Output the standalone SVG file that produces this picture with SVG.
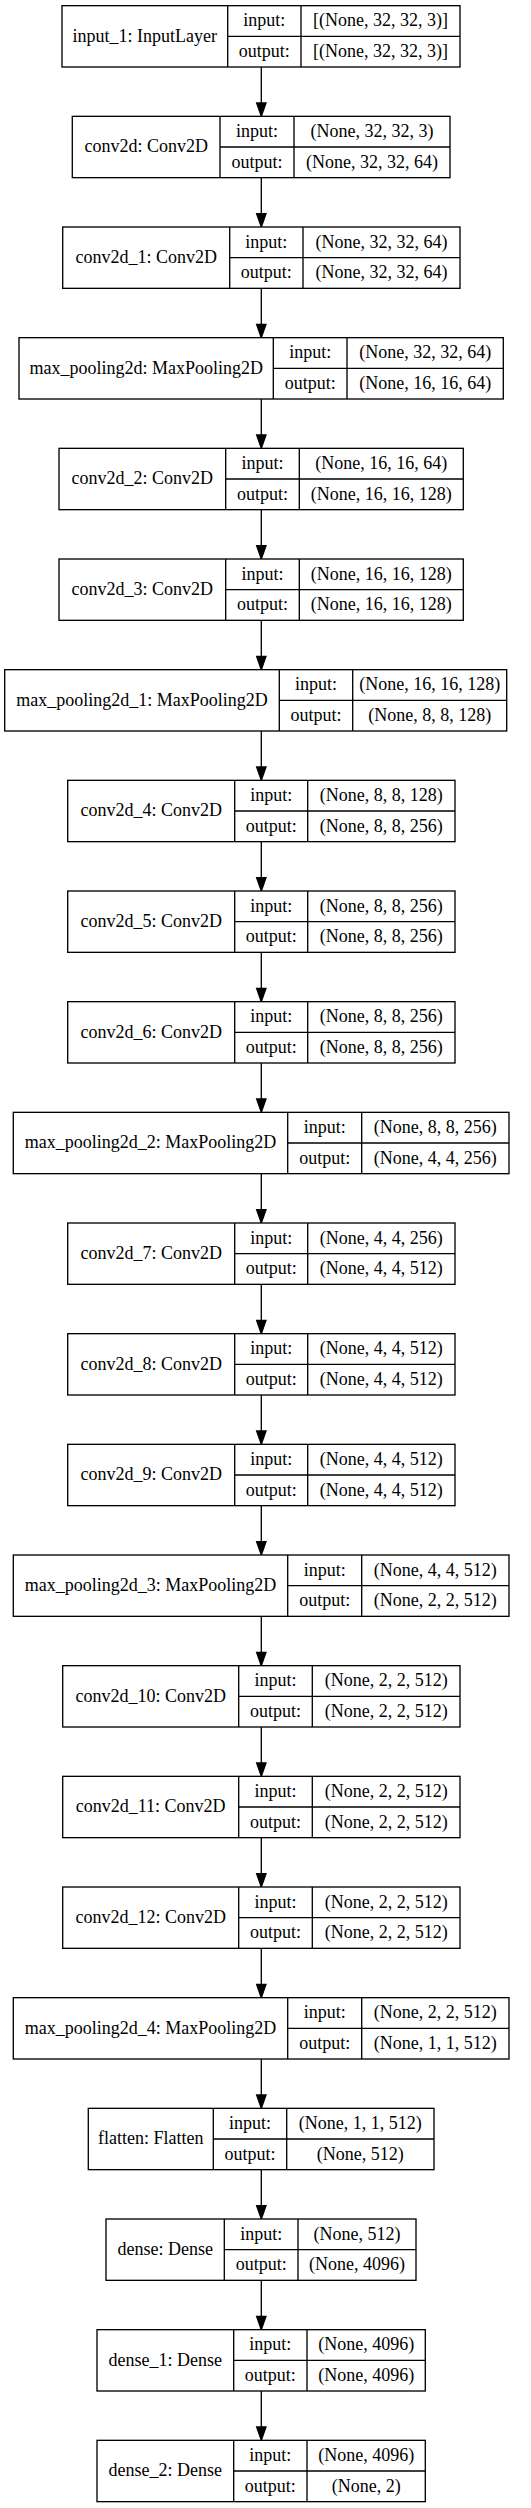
<svg xmlns="http://www.w3.org/2000/svg" width="531" height="2508" viewBox="0 0 531 2508">
<style>
.box{fill:#fff;stroke:#000;stroke-width:1.33}
.ln{stroke:#000;stroke-width:1.33;fill:none}
text{font-family:"Liberation Serif","Times New Roman",serif;font-size:18px;fill:#000;text-anchor:middle}
.edge{stroke:#000;stroke-width:1.33;fill:none;marker-end:url(#arrow)}
</style>
<defs>
<marker id="arrow" markerUnits="userSpaceOnUse" viewBox="0 -5 14 10" refX="0" refY="0" markerWidth="14" markerHeight="10" orient="auto" overflow="visible"><path d="M0,-4.67 L13.33,0 L0,4.67 Z" fill="#000" stroke="#000" stroke-width="1.33"/></marker>
</defs>
<rect width="531" height="2508" fill="#fff"/>
<g id="connectors">
<path class="edge" d="M261.3,67 V103"/>
<path class="edge" d="M261.3,177.66 V213.67"/>
<path class="edge" d="M261.3,288.33 V324.34"/>
<path class="edge" d="M261.3,399 V435"/>
<path class="edge" d="M261.3,509.66 V545.67"/>
<path class="edge" d="M261.3,620.33 V656.34"/>
<path class="edge" d="M261.3,731 V767"/>
<path class="edge" d="M261.3,841.66 V877.67"/>
<path class="edge" d="M261.3,952.33 V988.34"/>
<path class="edge" d="M261.3,1063 V1099"/>
<path class="edge" d="M261.3,1173.66 V1209.67"/>
<path class="edge" d="M261.3,1284.33 V1320.34"/>
<path class="edge" d="M261.3,1395 V1431"/>
<path class="edge" d="M261.3,1505.66 V1541.67"/>
<path class="edge" d="M261.3,1616.33 V1652.34"/>
<path class="edge" d="M261.3,1727 V1763"/>
<path class="edge" d="M261.3,1837.66 V1873.67"/>
<path class="edge" d="M261.3,1948.33 V1984.34"/>
<path class="edge" d="M261.3,2059 V2095"/>
<path class="edge" d="M261.3,2169.66 V2205.67"/>
<path class="edge" d="M261.3,2280.33 V2316.34"/>
<path class="edge" d="M261.3,2391 V2427"/>
</g>
<g id="input_1" transform="translate(0,5.67)">
<rect class="box" x="62" y="0" width="398" height="61.33"/>
<path class="ln" d="M227.7,0 V61.33 M301,0 V61.33 M227.7,30.67 H460"/>
<text x="144.85" y="36">input_1: InputLayer</text>
<text x="264.35" y="20.7">input:</text><text x="380.5" y="20.7">[(None, 32, 32, 3)]</text>
<text x="264.35" y="51.4">output:</text><text x="380.5" y="51.4">[(None, 32, 32, 3)]</text>
</g>
<g id="conv2d" transform="translate(0,116.33)">
<rect class="box" x="72.3" y="0" width="377.7" height="61.33"/>
<path class="ln" d="M220,0 V61.33 M294,0 V61.33 M220,30.67 H450"/>
<text x="146.15" y="36">conv2d: Conv2D</text>
<text x="257" y="20.7">input:</text><text x="372" y="20.7">(None, 32, 32, 3)</text>
<text x="257" y="51.4">output:</text><text x="372" y="51.4">(None, 32, 32, 64)</text>
</g>
<g id="conv2d_1" transform="translate(0,227)">
<rect class="box" x="62.7" y="0" width="397.3" height="61.33"/>
<path class="ln" d="M229.7,0 V61.33 M303,0 V61.33 M229.7,30.67 H460"/>
<text x="146.2" y="36">conv2d_1: Conv2D</text>
<text x="266.35" y="20.7">input:</text><text x="381.5" y="20.7">(None, 32, 32, 64)</text>
<text x="266.35" y="51.4">output:</text><text x="381.5" y="51.4">(None, 32, 32, 64)</text>
</g>
<g id="max_pooling2d" transform="translate(0,337.67)">
<rect class="box" x="19" y="0" width="484.3" height="61.33"/>
<path class="ln" d="M273.3,0 V61.33 M347,0 V61.33 M273.3,30.67 H503.3"/>
<text x="146.15" y="36">max_pooling2d: MaxPooling2D</text>
<text x="310.15" y="20.7">input:</text><text x="425.15" y="20.7">(None, 32, 32, 64)</text>
<text x="310.15" y="51.4">output:</text><text x="425.15" y="51.4">(None, 16, 16, 64)</text>
</g>
<g id="conv2d_2" transform="translate(0,448.33)">
<rect class="box" x="59" y="0" width="404.3" height="61.33"/>
<path class="ln" d="M225.7,0 V61.33 M299.3,0 V61.33 M225.7,30.67 H463.3"/>
<text x="142.35" y="36">conv2d_2: Conv2D</text>
<text x="262.5" y="20.7">input:</text><text x="381.3" y="20.7">(None, 16, 16, 64)</text>
<text x="262.5" y="51.4">output:</text><text x="381.3" y="51.4">(None, 16, 16, 128)</text>
</g>
<g id="conv2d_3" transform="translate(0,559)">
<rect class="box" x="59" y="0" width="404.3" height="61.33"/>
<path class="ln" d="M225.7,0 V61.33 M299.3,0 V61.33 M225.7,30.67 H463.3"/>
<text x="142.35" y="36">conv2d_3: Conv2D</text>
<text x="262.5" y="20.7">input:</text><text x="381.3" y="20.7">(None, 16, 16, 128)</text>
<text x="262.5" y="51.4">output:</text><text x="381.3" y="51.4">(None, 16, 16, 128)</text>
</g>
<g id="max_pooling2d_1" transform="translate(0,669.67)">
<rect class="box" x="4.7" y="0" width="502" height="61.33"/>
<path class="ln" d="M279.3,0 V61.33 M352.7,0 V61.33 M279.3,30.67 H506.7"/>
<text x="142" y="36">max_pooling2d_1: MaxPooling2D</text>
<text x="316" y="20.7">input:</text><text x="429.7" y="20.7">(None, 16, 16, 128)</text>
<text x="316" y="51.4">output:</text><text x="429.7" y="51.4">(None, 8, 8, 128)</text>
</g>
<g id="conv2d_4" transform="translate(0,780.33)">
<rect class="box" x="67.7" y="0" width="387.3" height="61.33"/>
<path class="ln" d="M234.7,0 V61.33 M307.7,0 V61.33 M234.7,30.67 H455"/>
<text x="151.2" y="36">conv2d_4: Conv2D</text>
<text x="271.2" y="20.7">input:</text><text x="381.35" y="20.7">(None, 8, 8, 128)</text>
<text x="271.2" y="51.4">output:</text><text x="381.35" y="51.4">(None, 8, 8, 256)</text>
</g>
<g id="conv2d_5" transform="translate(0,891)">
<rect class="box" x="67.7" y="0" width="387.3" height="61.33"/>
<path class="ln" d="M234.7,0 V61.33 M307.7,0 V61.33 M234.7,30.67 H455"/>
<text x="151.2" y="36">conv2d_5: Conv2D</text>
<text x="271.2" y="20.7">input:</text><text x="381.35" y="20.7">(None, 8, 8, 256)</text>
<text x="271.2" y="51.4">output:</text><text x="381.35" y="51.4">(None, 8, 8, 256)</text>
</g>
<g id="conv2d_6" transform="translate(0,1001.67)">
<rect class="box" x="67.7" y="0" width="387.3" height="61.33"/>
<path class="ln" d="M234.7,0 V61.33 M307.7,0 V61.33 M234.7,30.67 H455"/>
<text x="151.2" y="36">conv2d_6: Conv2D</text>
<text x="271.2" y="20.7">input:</text><text x="381.35" y="20.7">(None, 8, 8, 256)</text>
<text x="271.2" y="51.4">output:</text><text x="381.35" y="51.4">(None, 8, 8, 256)</text>
</g>
<g id="max_pooling2d_2" transform="translate(0,1112.33)">
<rect class="box" x="13.3" y="0" width="495.7" height="61.33"/>
<path class="ln" d="M287.7,0 V61.33 M361.7,0 V61.33 M287.7,30.67 H509"/>
<text x="150.5" y="36">max_pooling2d_2: MaxPooling2D</text>
<text x="324.7" y="20.7">input:</text><text x="435.35" y="20.7">(None, 8, 8, 256)</text>
<text x="324.7" y="51.4">output:</text><text x="435.35" y="51.4">(None, 4, 4, 256)</text>
</g>
<g id="conv2d_7" transform="translate(0,1223)">
<rect class="box" x="67.7" y="0" width="387.3" height="61.33"/>
<path class="ln" d="M234.7,0 V61.33 M307.7,0 V61.33 M234.7,30.67 H455"/>
<text x="151.2" y="36">conv2d_7: Conv2D</text>
<text x="271.2" y="20.7">input:</text><text x="381.35" y="20.7">(None, 4, 4, 256)</text>
<text x="271.2" y="51.4">output:</text><text x="381.35" y="51.4">(None, 4, 4, 512)</text>
</g>
<g id="conv2d_8" transform="translate(0,1333.67)">
<rect class="box" x="67.7" y="0" width="387.3" height="61.33"/>
<path class="ln" d="M234.7,0 V61.33 M307.7,0 V61.33 M234.7,30.67 H455"/>
<text x="151.2" y="36">conv2d_8: Conv2D</text>
<text x="271.2" y="20.7">input:</text><text x="381.35" y="20.7">(None, 4, 4, 512)</text>
<text x="271.2" y="51.4">output:</text><text x="381.35" y="51.4">(None, 4, 4, 512)</text>
</g>
<g id="conv2d_9" transform="translate(0,1444.33)">
<rect class="box" x="67.7" y="0" width="387.3" height="61.33"/>
<path class="ln" d="M234.7,0 V61.33 M307.7,0 V61.33 M234.7,30.67 H455"/>
<text x="151.2" y="36">conv2d_9: Conv2D</text>
<text x="271.2" y="20.7">input:</text><text x="381.35" y="20.7">(None, 4, 4, 512)</text>
<text x="271.2" y="51.4">output:</text><text x="381.35" y="51.4">(None, 4, 4, 512)</text>
</g>
<g id="max_pooling2d_3" transform="translate(0,1555)">
<rect class="box" x="13.3" y="0" width="495.7" height="61.33"/>
<path class="ln" d="M287.7,0 V61.33 M361.7,0 V61.33 M287.7,30.67 H509"/>
<text x="150.5" y="36">max_pooling2d_3: MaxPooling2D</text>
<text x="324.7" y="20.7">input:</text><text x="435.35" y="20.7">(None, 4, 4, 512)</text>
<text x="324.7" y="51.4">output:</text><text x="435.35" y="51.4">(None, 2, 2, 512)</text>
</g>
<g id="conv2d_10" transform="translate(0,1665.67)">
<rect class="box" x="62.7" y="0" width="397.3" height="61.33"/>
<path class="ln" d="M238.7,0 V61.33 M312.3,0 V61.33 M238.7,30.67 H460"/>
<text x="150.7" y="36">conv2d_10: Conv2D</text>
<text x="275.5" y="20.7">input:</text><text x="386.15" y="20.7">(None, 2, 2, 512)</text>
<text x="275.5" y="51.4">output:</text><text x="386.15" y="51.4">(None, 2, 2, 512)</text>
</g>
<g id="conv2d_11" transform="translate(0,1776.33)">
<rect class="box" x="62.7" y="0" width="397.3" height="61.33"/>
<path class="ln" d="M238.7,0 V61.33 M312.3,0 V61.33 M238.7,30.67 H460"/>
<text x="150.7" y="36">conv2d_11: Conv2D</text>
<text x="275.5" y="20.7">input:</text><text x="386.15" y="20.7">(None, 2, 2, 512)</text>
<text x="275.5" y="51.4">output:</text><text x="386.15" y="51.4">(None, 2, 2, 512)</text>
</g>
<g id="conv2d_12" transform="translate(0,1887)">
<rect class="box" x="62.7" y="0" width="397.3" height="61.33"/>
<path class="ln" d="M238.7,0 V61.33 M312.3,0 V61.33 M238.7,30.67 H460"/>
<text x="150.7" y="36">conv2d_12: Conv2D</text>
<text x="275.5" y="20.7">input:</text><text x="386.15" y="20.7">(None, 2, 2, 512)</text>
<text x="275.5" y="51.4">output:</text><text x="386.15" y="51.4">(None, 2, 2, 512)</text>
</g>
<g id="max_pooling2d_4" transform="translate(0,1997.67)">
<rect class="box" x="13.3" y="0" width="495.7" height="61.33"/>
<path class="ln" d="M287.7,0 V61.33 M361.7,0 V61.33 M287.7,30.67 H509"/>
<text x="150.5" y="36">max_pooling2d_4: MaxPooling2D</text>
<text x="324.7" y="20.7">input:</text><text x="435.35" y="20.7">(None, 2, 2, 512)</text>
<text x="324.7" y="51.4">output:</text><text x="435.35" y="51.4">(None, 1, 1, 512)</text>
</g>
<g id="flatten" transform="translate(0,2108.33)">
<rect class="box" x="88.3" y="0" width="345.7" height="61.33"/>
<path class="ln" d="M213.3,0 V61.33 M286.7,0 V61.33 M213.3,30.67 H434"/>
<text x="150.8" y="36">flatten: Flatten</text>
<text x="250" y="20.7">input:</text><text x="360.35" y="20.7">(None, 1, 1, 512)</text>
<text x="250" y="51.4">output:</text><text x="360.35" y="51.4">(None, 512)</text>
</g>
<g id="dense" transform="translate(0,2219)">
<rect class="box" x="106" y="0" width="310" height="61.33"/>
<path class="ln" d="M224.3,0 V61.33 M298,0 V61.33 M224.3,30.67 H416"/>
<text x="165.15" y="36">dense: Dense</text>
<text x="261.15" y="20.7">input:</text><text x="357" y="20.7">(None, 512)</text>
<text x="261.15" y="51.4">output:</text><text x="357" y="51.4">(None, 4096)</text>
</g>
<g id="dense_1" transform="translate(0,2329.67)">
<rect class="box" x="97" y="0" width="328.3" height="61.33"/>
<path class="ln" d="M233.7,0 V61.33 M307,0 V61.33 M233.7,30.67 H425.3"/>
<text x="165.35" y="36">dense_1: Dense</text>
<text x="270.35" y="20.7">input:</text><text x="366.15" y="20.7">(None, 4096)</text>
<text x="270.35" y="51.4">output:</text><text x="366.15" y="51.4">(None, 4096)</text>
</g>
<g id="dense_2" transform="translate(0,2440.33)">
<rect class="box" x="97" y="0" width="328.3" height="61.33"/>
<path class="ln" d="M233.7,0 V61.33 M307,0 V61.33 M233.7,30.67 H425.3"/>
<text x="165.35" y="36">dense_2: Dense</text>
<text x="270.35" y="20.7">input:</text><text x="366.15" y="20.7">(None, 4096)</text>
<text x="270.35" y="51.4">output:</text><text x="366.15" y="51.4">(None, 2)</text>
</g>
</svg>
